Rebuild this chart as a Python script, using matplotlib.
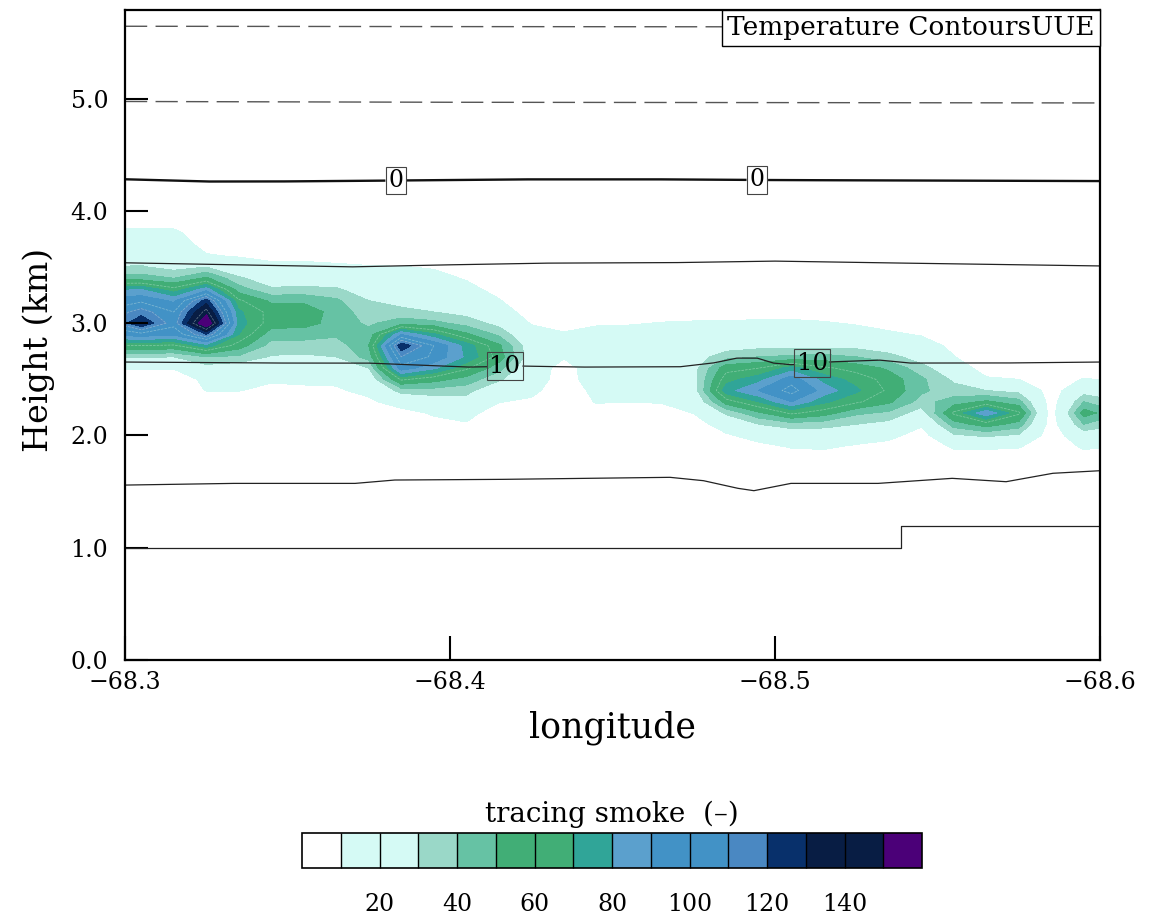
import numpy as np
import matplotlib
matplotlib.use("Agg")
import matplotlib.pyplot as plt
from matplotlib.offsetbox import AnchoredText

plt.rcParams['font.family'] = ['DejaVu Serif']

# smoke grid: longitude columns, height rows (km, top to bottom)
lon_grid = np.round(np.arange(-68.295, -68.606, -0.01), 3)
hgt_grid = np.round(np.arange(4.0, 1.65, -0.1), 1)

smoke_cols = [
    [0, 5, 14, 18, 24, 30, 45, 78, 95, 102, 106, 92, 58, 31, 11, 0, 0, 0, 0, 0, 0, 0, 0, 0],
    [0, 5, 14, 18, 24, 31, 45, 80, 98, 115, 130, 96, 60, 31, 11, 0, 0, 0, 0, 0, 0, 0, 0, 0],
    [0, 4, 14, 17, 20, 26, 40, 64, 88, 100, 104, 92, 58, 30, 11, 0, 0, 0, 0, 0, 0, 0, 0, 0],
    [0, 0, 0, 6, 11, 30, 52, 85, 125, 145, 165, 120, 75, 40, 25, 14, 10.5, 0, 0, 0, 0, 0, 0, 0],
    [0, 0, 0, 3, 9, 18, 32, 45, 62, 72, 75, 70, 55, 38, 22, 14, 10.5, 0, 0, 0, 0, 0, 0, 0],
    [0, 0, 0, 0, 7, 13, 22, 32, 48, 56, 55, 44, 36, 29, 18, 12, 6, 0, 0, 0, 0, 0, 0, 0],
    [0, 0, 0, 0, 7, 13, 22, 33, 48, 56, 54, 44, 36, 28, 18, 12, 8, 0, 0, 0, 0, 0, 0, 0],
    [0, 0, 0, 0, 6, 12, 20, 32, 42, 46, 46, 42, 34, 30, 20, 13, 8, 0, 0, 0, 0, 0, 0, 0],
    [0, 0, 0, 0, 4, 11, 16, 22, 30, 34, 38, 44, 50, 44, 30, 20, 14, 7, 0, 0, 0, 0, 0, 0],
    [0, 0, 0, 0, 3, 10.5, 15, 20, 26, 33, 46, 90, 128, 110, 96, 62, 34, 18, 4, 0, 0, 0, 0, 0],
    [0, 0, 0, 0, 2, 9, 14, 18, 24, 30, 43, 72, 100, 98, 82, 54, 36, 22, 12, 5, 0, 0, 0, 0],
    [0, 0, 0, 0, 0, 5, 9, 14, 20, 26, 36, 52, 76, 78, 62, 46, 34, 24, 14, 9, 0, 0, 0, 0],
    [0, 0, 0, 0, 0, 0, 2, 6, 11, 18, 26, 38, 52, 56, 44, 32, 18, 10.5, 4, 0, 0, 0, 0, 0],
    [0, 0, 0, 0, 0, 0, 0, 0, 0, 3, 9, 16, 22, 22, 18, 16, 13, 8, 0, 0, 0, 0, 0, 0],
    [0, 0, 0, 0, 0, 0, 0, 0, 0, 0, 3, 12, 15, 11, 5, 5, 3, 0, 0, 0, 0, 0, 0, 0],
    [0, 0, 0, 0, 0, 0, 0, 0, 0, 3, 8, 16, 18, 18, 17, 16, 13, 11, 3, 0, 0, 0, 0, 0],
    [0, 0, 0, 0, 0, 0, 0, 0, 0, 4, 9, 15, 18, 20, 19, 18, 15, 10.5, 3, 0, 0, 0, 0, 0],
    [0, 0, 0, 0, 0, 0, 0, 0, 0, 5, 10.5, 16, 19, 21, 21, 19, 16, 11, 3, 0, 0, 0, 0, 0],
    [0, 0, 0, 0, 0, 0, 0, 0, 0, 6, 11, 17, 21, 24, 26, 26, 24, 18, 10.5, 3, 0, 0, 0, 0],
    [0, 0, 0, 0, 0, 0, 0, 0, 0, 6, 11, 17, 24, 36, 56, 66, 76, 55, 32, 18, 8, 0, 0, 0],
    [0, 0, 0, 0, 0, 0, 0, 0, 0, 6, 12, 18, 26, 40, 60, 76, 90, 70, 48, 30, 16, 6, 0, 0],
    [0, 0, 0, 0, 0, 0, 0, 0, 0, 6, 12, 18, 26, 42, 74, 96, 104, 90, 62, 36, 20, 11, 3, 0],
    [0, 0, 0, 0, 0, 0, 0, 0, 0, 5, 11, 17, 26, 44, 62, 76, 86, 72, 55, 34, 22, 12, 4, 0],
    [0, 0, 0, 0, 0, 0, 0, 0, 0, 4, 9, 15, 26, 40, 56, 66, 72, 62, 42, 30, 18, 8, 0, 0],
    [0, 0, 0, 0, 0, 0, 0, 0, 0, 2, 6, 12, 22, 34, 48, 56, 58, 52, 38, 26, 14, 5, 0, 0],
    [0, 0, 0, 0, 0, 0, 0, 0, 0, 0, 3, 9, 16, 24, 34, 42, 42, 36, 24, 12, 4, 0, 0, 0],
    [0, 0, 0, 0, 0, 0, 0, 0, 0, 0, 0, 3, 7, 10.5, 20, 28, 34, 45, 62, 45, 28, 12, 3, 0],
    [0, 0, 0, 0, 0, 0, 0, 0, 0, 0, 0, 0, 0, 0, 3, 12, 30, 52, 88, 55, 32, 12, 4, 0],
    [0, 0, 0, 0, 0, 0, 0, 0, 0, 0, 0, 0, 0, 0, 2, 10, 26, 44, 62, 46, 28, 11, 3, 0],
    [0, 0, 0, 0, 0, 0, 0, 0, 0, 0, 0, 0, 0, 0, 0, 2, 3, 3, 3, 3, 2, 1, 0, 0],
    [0, 0, 0, 0, 0, 0, 0, 0, 0, 0, 0, 0, 0, 0, 2, 11, 24, 40, 55, 40, 22, 12, 4, 0],
    [0, 0, 0, 0, 0, 0, 0, 0, 0, 0, 0, 0, 0, 0, 0, 8, 18, 32, 42, 32, 18, 10, 3, 0],
]
smoke = np.array(smoke_cols, dtype=float).T

smoke_levels = [10, 20, 30, 40, 50, 60, 70, 80, 90, 100, 110, 120, 130, 140, 150]
smoke_colors = ['#FFFFFF', '#D5FAF5', '#D5FAF5', '#9AD8C8', '#66C2A4', '#41AE76',
                '#41AE76', '#30A598', '#5BA0CD', '#4292C6', '#4292C6', '#4A88C2',
                '#08306B', '#081D44', '#081D44', '#4B0078']
cbar_ticks = [20, 40, 60, 80, 100, 120, 140]

# temperature contour lines (lon, height km)
t_m10_lon = [-68.30, -68.40, -68.50, -68.60]
t_m10_h = [5.645, 5.642, 5.640, 5.638]
t_m5_lon = [-68.30, -68.40, -68.50, -68.60]
t_m5_h = [4.975, 4.968, 4.965, 4.962]
t_0_lon = [-68.30, -68.325, -68.345, -68.38, -68.42, -68.46, -68.50, -68.55, -68.60]
t_0_h = [4.282, 4.262, 4.262, 4.270, 4.281, 4.282, 4.275, 4.270, 4.266]
t_5_lon = [-68.30, -68.34, -68.37, -68.40, -68.43, -68.47, -68.50, -68.54, -68.60]
t_5_h = [3.538, 3.517, 3.502, 3.520, 3.535, 3.540, 3.553, 3.535, 3.510]
t_10_lon = [-68.30, -68.3437, -68.3745, -68.4052, -68.4225, -68.44, -68.4708, -68.4809,
            -68.4883, -68.4945, -68.4994, -68.505, -68.5178, -68.5323, -68.5415,
            -68.5692, -68.60]
t_10_h = [2.654, 2.645, 2.645, 2.609, 2.618, 2.609, 2.612, 2.645, 2.689, 2.689, 2.645,
          2.630, 2.656, 2.671, 2.645, 2.645, 2.654]
t_15_lon = [-68.30, -68.3335, -68.3708, -68.383, -68.4163, -68.4677, -68.478, -68.4886,
            -68.4935, -68.5049, -68.5317, -68.5545, -68.5711, -68.5855, -68.60]
t_15_h = [1.558, 1.573, 1.573, 1.603, 1.609, 1.627, 1.597, 1.529, 1.508, 1.573, 1.573,
          1.618, 1.588, 1.663, 1.686]
t_20_lon = [-68.30, -68.5387, -68.5387, -68.60]
t_20_h = [0.995, 0.995, 1.193, 1.193]

t_0_label_lon = [-68.3834, -68.4945]
t_10_label_lon = [-68.4169, -68.5114]

fig = plt.figure(figsize=(11.52, 9.16), dpi=100)
ax = fig.add_axes([0.1085, 0.2795, 0.8464, 0.7096])

cf = ax.contourf(lon_grid, hgt_grid, smoke, levels=smoke_levels,
                 colors=smoke_colors, extend='both', zorder=1)
ax.contour(lon_grid, hgt_grid, smoke, levels=[60, 100, 110, 140],
           colors='#D8EFE4', linewidths=0.5, linestyles='--', alpha=0.45, zorder=2)


def line_with_gaps(lon, h, gaps, **kw):
    lon = np.asarray(lon)
    h = np.asarray(h)
    xs = np.linspace(lon[0], lon[-1], 900)
    ys = np.interp(-xs, -lon, h)
    for c, w in gaps:
        ys[np.abs(xs - c) < w] = np.nan
    ax.plot(xs, ys, **kw)


dash_kw = dict(color='#555555', lw=1.0, dashes=(16, 6), zorder=3)
ax.plot(t_m10_lon, t_m10_h, **dash_kw)
ax.plot(t_m5_lon, t_m5_h, **dash_kw)
line_with_gaps(t_0_lon, t_0_h, [(c, 0.0036) for c in t_0_label_lon],
               color='#111111', lw=1.7, zorder=3)
ax.plot(t_5_lon, t_5_h, color='#222222', lw=0.9, zorder=3)
line_with_gaps(t_10_lon, t_10_h, [(c, 0.0054) for c in t_10_label_lon],
               color='#222222', lw=0.9, zorder=3)
ax.plot(t_15_lon, t_15_h, color='#222222', lw=0.9, zorder=3)
ax.plot(t_20_lon, t_20_h, color='#222222', lw=0.9, zorder=3)

box = dict(boxstyle='square,pad=0.1', facecolor='none', edgecolor='#444444', lw=0.8)
for c in t_0_label_lon:
    ax.text(c, np.interp(-c, -np.array(t_0_lon), t_0_h), '0', ha='center', va='center',
            fontsize=17, bbox=box, zorder=4)
for c in t_10_label_lon:
    ax.text(c, np.interp(-c, -np.array(t_10_lon), t_10_h), '10', ha='center', va='center',
            fontsize=17.5, bbox=box, zorder=4)

ax.set_xlim(-68.3, -68.6)
ax.set_ylim(0, 5.79)
ax.set_xticks([-68.3, -68.4, -68.5, -68.6])
ax.set_xticklabels(['\u221268.3', '\u221268.4', '\u221268.5', '\u221268.6'])
ax.set_yticks([0, 1, 2, 3, 4, 5])
ax.set_yticklabels(['0.0', '1.0', '2.0', '3.0', '4.0', '5.0'])
ax.tick_params(axis='both', direction='in', width=1.5, labelsize=17, zorder=5)
ax.tick_params(axis='y', length=16.5, pad=12)
ax.tick_params(axis='x', length=17, pad=8)
for s in ax.spines.values():
    s.set_linewidth(1.6)
    s.set_zorder(6)

ax.set_ylabel('Height (km)', fontsize=24)
ax.yaxis.set_label_coords(-0.072, 0.477)
ax.set_xlabel('longitude', fontsize=25)
ax.xaxis.set_label_coords(0.5, -0.078)

at = AnchoredText('Temperature ContoursUUE', loc='upper right', prop=dict(size=19),
                  frameon=True, pad=0.2, borderpad=0)
at.patch.set_boxstyle('square,pad=0')
at.patch.set_edgecolor('black')
at.patch.set_linewidth(1.0)
at.set_zorder(7)
ax.add_artist(at)

cax = fig.add_axes([0.2622, 0.0524, 0.5382, 0.0382])
cb = fig.colorbar(cf, cax=cax, orientation='horizontal', extendrect=True,
                  extendfrac=1 / 14, drawedges=True, ticks=cbar_ticks)
cb.outline.set_linewidth(1.2)
cb.dividers.set_color('black')
cb.dividers.set_linewidth(1.0)
cax.tick_params(length=0, labelsize=17, pad=18)
cax.set_title('tracing smoke  (\u2013)', fontsize=20, pad=8)

fig.savefig('out.png', dpi=100)
